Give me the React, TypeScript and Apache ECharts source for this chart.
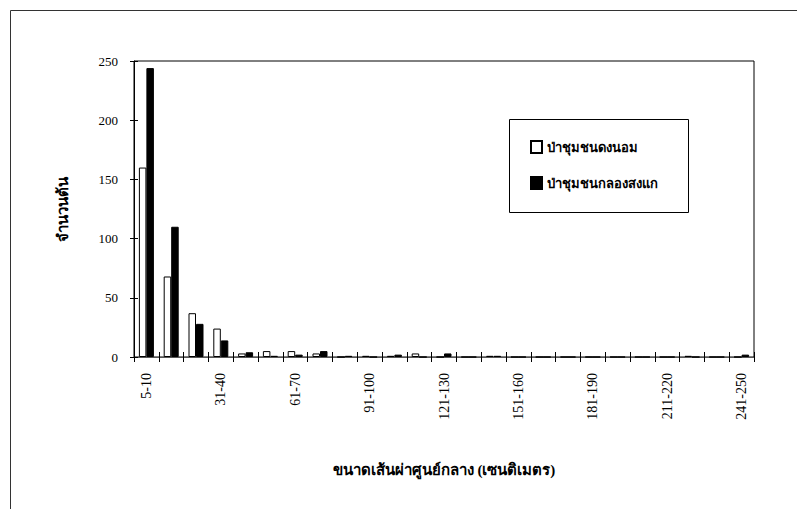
import React, { useEffect, useRef } from "react";
import * as echarts from "echarts";

const categories = [
  "5-10", "11-20", "21-30", "31-40", "41-50", "51-60", "61-70", "71-80", "81-90", "91-100",
  "101-110", "111-120", "121-130", "131-140", "141-150", "151-160", "161-170", "171-180",
  "181-190", "191-200", "201-210", "211-220", "221-230", "231-240", "241-250",
];
const seriesNames = ["ป่าชุมชนดงนอม", "ป่าชุมชนกลองสงแก"];
const forestA = [160, 68, 37, 24, 3, 5, 5, 3, 0, 1, 1, 3, 0, 0, 1, 0, 0, 0, 0, 0, 0, 0, 1, 0, 0];
const forestB = [244, 110, 28, 14, 4, 1, 2, 5, 1, 0, 2, 0, 3, 0, 1, 0, 0, 0, 0, 0, 0, 0, 0, 0, 2];
const yTicks = { min: 0, max: 250, interval: 50 };
const xTitle = "ขนาดเส้นผ่าศูนย์กลาง (เซนติเมตร)";
const yTitle = "จำนวนต้น";

const FONT = "'Liberation Serif', 'DejaVu Serif', serif";

export default function App() {
  const ref = useRef<HTMLDivElement>(null);
  useEffect(() => {
    if (!ref.current) return;
    const chart = echarts.init(ref.current, null, { renderer: "svg" });
    chart.setOption({
      animation: false,
      backgroundColor: "#fff",
      textStyle: { fontFamily: FONT, color: "#000" },
      grid: {
        left: 134,
        right: 43,
        top: 61,
        bottom: 152,
        show: true,
        borderColor: "#000",
        borderWidth: 1,
      },
      legend: {
        orient: "vertical",
        left: 530,
        top: 140,
        padding: 0,
        itemGap: 22,
        itemWidth: 11,
        itemHeight: 12,
        icon: "rect",
        textStyle: { fontFamily: FONT, fontSize: 13, fontWeight: "bold", color: "#000" },
        data: seriesNames,
      },
      xAxis: [
        {
          type: "category",
          data: categories,
          axisLine: { lineStyle: { color: "#555", width: 1 } },
          axisTick: { show: true, length: 5, interval: 0, lineStyle: { color: "#000" } },
          axisLabel: {
            interval: 2,
            rotate: 90,
            fontSize: 14,
            margin: 16,
            color: "#000",
            fontFamily: FONT,
          },
          name: xTitle,
          nameLocation: "middle",
          nameGap: 105,
          nameTextStyle: { fontSize: 15, fontWeight: "bold", fontFamily: FONT, color: "#000" },
        },
        {
          type: "category",
          data: categories,
          position: "bottom",
          axisLine: { show: false },
          axisTick: { show: true, inside: true, length: 5, interval: 0, lineStyle: { color: "#000" } },
          axisLabel: { show: false },
        },
      ],
      yAxis: [
        {
          type: "value",
          min: yTicks.min,
          max: yTicks.max,
          interval: yTicks.interval,
          splitLine: { show: false },
          axisLine: { show: true, lineStyle: { color: "#000" } },
          axisTick: { show: true, length: 4, lineStyle: { color: "#000" } },
          axisLabel: { fontSize: 13, margin: 16, color: "#000", fontFamily: FONT },
          name: yTitle,
          nameLocation: "middle",
          nameGap: 64,
          nameRotate: 90,
          nameTextStyle: { fontSize: 15, fontWeight: "bold", fontFamily: FONT, color: "#000" },
        },
        {
          type: "value",
          min: yTicks.min,
          max: yTicks.max,
          interval: yTicks.interval,
          position: "left",
          splitLine: { show: false },
          axisLine: { show: false },
          axisTick: { show: true, inside: true, length: 4, lineStyle: { color: "#000" } },
          axisLabel: { show: false },
        },
      ],
      series: [
        {
          name: seriesNames[0],
          type: "bar",
          data: forestA,
          barWidth: 7.5,
          barGap: "0%",
          itemStyle: { color: "#fff", borderColor: "#000", borderWidth: 1 },
        },
        {
          name: seriesNames[1],
          type: "bar",
          data: forestB,
          barWidth: 7.5,
          barGap: "0%",
          itemStyle: { color: "#000", borderColor: "#000", borderWidth: 1 },
        },
      ],
      graphic: [
        {
          type: "rect",
          left: 8,
          top: 8,
          shape: { width: 800, height: 510 },
          style: { fill: "none", stroke: "#333", lineWidth: 1 },
          silent: true,
        },
        {
          type: "rect",
          left: 507,
          top: 117,
          shape: { width: 179, height: 93 },
          style: { fill: "none", stroke: "#000", lineWidth: 1 },
          silent: true,
          z: -1,
        },
      ],
    });
    return () => chart.dispose();
  }, []);
  return (
    <div
      ref={ref}
      style={{ position: "fixed", left: 0, top: 0, width: 797, height: 509 }}
    />
  );
}
